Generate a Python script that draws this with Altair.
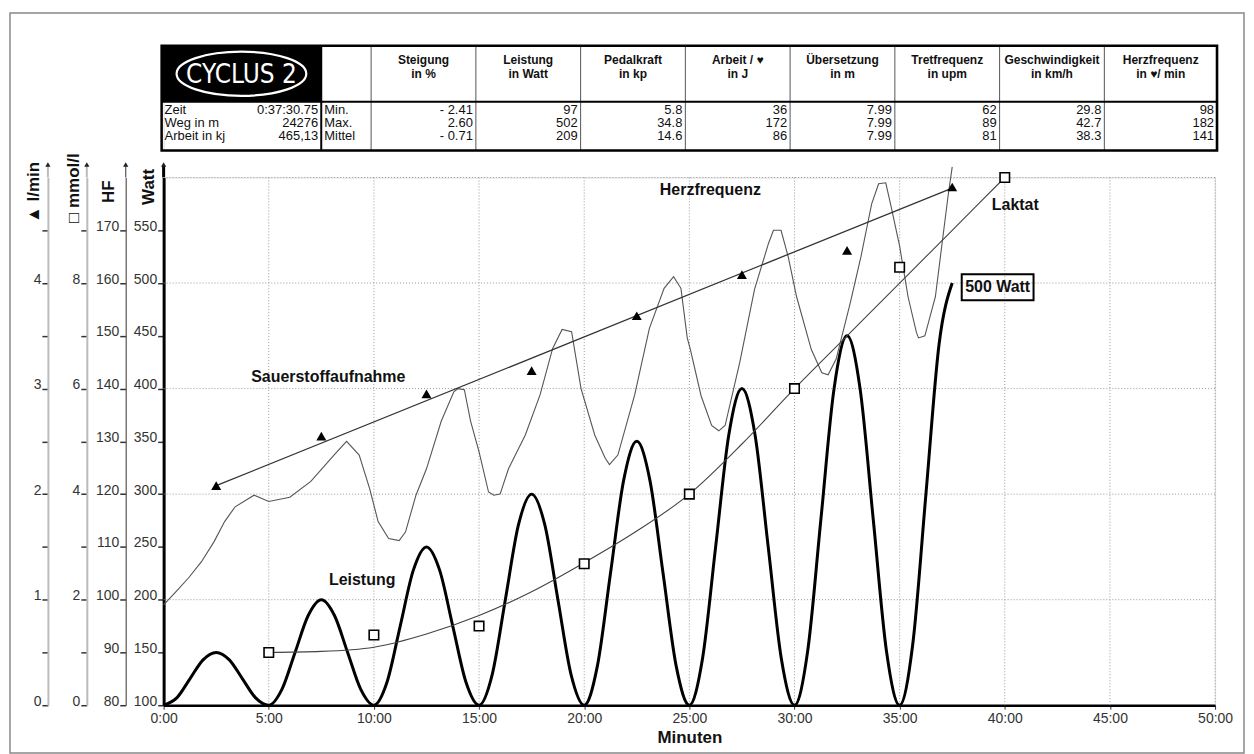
import altair as alt
import pandas as pd

FONT = "Liberation Sans, Arial, sans-serif"

# ---------------- data: Leistung (Watt) ----------------
lei_t = [0, 0.625, 1.25, 1.875, 2.5, 3.125, 3.75, 4.375,
         5, 5.625, 6.25, 6.875, 7.5, 8.125, 8.75, 9.375,
         10, 10.625, 11.25, 11.875, 12.5, 13.125, 13.75, 14.375,
         15, 15.625, 16.25, 16.875, 17.5, 18.125, 18.75, 19.375,
         20, 20.625, 21.25, 21.875, 22.5, 23.125, 23.75, 24.375,
         25, 25.625, 26.25, 26.875, 27.5, 28.125, 28.75, 29.375,
         30, 30.625, 31.25, 31.875, 32.5, 33.125, 33.75, 34.375,
         35, 35.625, 36.25, 36.875, 37.5]
lei_w = [100, 107, 125, 143, 150, 143, 125, 107,
         100, 115, 150, 185, 200, 185, 150, 115,
         100, 122, 175, 228, 250, 228, 175, 122,
         100, 129, 200, 271, 300, 271, 200, 129,
         100, 137, 225, 313, 350, 313, 225, 137,
         100, 144, 250, 356, 400, 356, 250, 144,
         100, 151, 275, 399, 450, 399, 275, 151,
         100, 158, 300, 442, 500]

# ---------------- data: Herzfrequenz (1/min) ----------------
hf_t = [0.0, 0.7, 1.2, 1.8, 2.4, 2.9, 3.4, 4.3, 5.0, 6.0, 7.0, 8.1, 8.7, 9.3, 9.8,
        10.2, 10.7, 11.2, 11.5, 12.0, 12.5, 13.2, 13.8, 14.0, 14.3, 14.6, 15.0,
        15.45, 15.7, 16.0, 16.4, 17.2, 17.9, 18.5, 18.95, 19.4, 19.85, 20.5, 21.0,
        21.2, 21.6, 22.4, 23.1, 23.8, 24.25, 24.6, 24.9, 25.05, 25.56, 26.06, 26.4,
        26.7, 27.4, 28.1, 28.77, 29.0, 29.36, 29.7, 30.1, 30.8, 31.3, 31.6, 31.98,
        32.65, 33.16, 33.67, 34.0, 34.34, 34.6, 35.0, 35.4, 35.8, 35.9, 36.2, 36.7,
        37.04, 37.3, 37.5]
hf_v = [99.0, 102.0, 104.2, 107.2, 111.0, 114.8, 117.6, 119.8, 118.6, 119.4, 122.4,
        127.4, 130.0, 127.4, 121.0, 114.8, 111.6, 111.2, 112.8, 119.8, 124.8, 133.8,
        139.4, 140.0, 139.8, 133.8, 128.0, 120.4, 119.8, 120.0, 124.8, 131.2, 138.8,
        147.6, 151.2, 150.8, 140.0, 131.2, 126.8, 125.6, 127.4, 138.8, 151.4, 159.0,
        161.2, 159.0, 149.6, 147.4, 138.6, 133.0, 132.0, 133.0, 145.0, 158.8, 167.6,
        170.0, 170.0, 165.0, 157.4, 147.4, 143.0, 142.6, 145.6, 156.2, 165.0, 175.0,
        178.8, 179.0, 174.4, 167.0, 157.4, 150.6, 149.6, 150.0, 157.4, 168.2, 176.4,
        182.0]

# ---------------- data: Laktat (mmol/l) ----------------
lac_t = [5, 10, 15, 20, 25, 30, 35, 40]
lac_v = [1.0, 1.33, 1.5, 2.68, 4.0, 6.0, 8.3, 10.0]
lacfit_t = [5, 7.5, 10, 12.5, 15, 17.5, 20, 22.5, 25, 27.5, 30, 32.5, 35, 37.5, 40]
lacfit_v = [1.0, 1.02, 1.1, 1.35, 1.7, 2.15, 2.7, 3.3, 4.0, 4.95, 6.0, 7.0, 8.0, 9.0, 10.0]

# ---------------- data: Sauerstoffaufnahme (l/min) ----------------
vo2_t = [2.5, 7.5, 12.5, 17.5, 22.5, 27.5, 32.5, 37.5]
vo2_v = [2.08, 2.55, 2.95, 3.17, 3.69, 4.08, 4.31, 4.91]
vo2fit_t = [2.5, 37.5]
vo2fit_v = [2.08, 4.90]

# ---------------- annotations (minutes, Watt) ----------------
ann_text = ["Herzfrequenz", "Sauerstoffaufnahme", "Leistung", "Laktat", "500 Watt"]
ann_t = [26.0, 7.83, 9.44, 40.5, 39.66]
ann_w = [588, 411, 218.5, 574, 496]

# ---------------- grid / ticks ----------------
grid_w = [200, 300, 400, 500, 600]
grid_t = [5, 10, 15, 20, 25, 30, 35, 40, 45, 50]
x_ticks = [0, 5, 10, 15, 20, 25, 30, 35, 40, 45, 50]
watt_ticks = [100, 150, 200, 250, 300, 350, 400, 450, 500, 550]
hf_ticks = [80, 90, 100, 110, 120, 130, 140, 150, 160, 170]
lac_ticks = [0, 1, 2, 3, 4, 5, 6, 7, 8, 9]
vo2_ticks = [0, 0.5, 1, 1.5, 2, 2.5, 3, 3.5, 4, 4.5]

# ---------------- table ----------------
tab_heads1 = ["Steigung", "Leistung", "Pedalkraft", "Arbeit / \u2665", "\u00dcbersetzung",
              "Tretfrequenz", "Geschwindigkeit", "Herzfrequenz"]
tab_heads2 = ["in %", "in Watt", "in kp", "in J", "in m", "in upm", "in km/h", "in \u2665/ min"]
tab_vals = [["- 2.41", "2.60", "- 0.71"],
            ["97", "502", "209"],
            ["5.8", "34.8", "14.6"],
            ["36", "172", "86"],
            ["7.99", "7.99", "7.99"],
            ["62", "89", "81"],
            ["29.8", "42.7", "38.3"],
            ["98", "182", "141"]]
info_labels = ["Zeit", "Weg in m", "Arbeit in kj"]
info_values = ["0:37:30.75", "24276", "465,13"]
stat_labels = ["Min.", "Max.", "Mittel"]

# layout of the table (pixels inside the table panel)
TW, TH = 1054, 105
col_edges = [-2, 158, 208, 313, 418, 523, 628, 733, 838, 943, 1056]
head_sep = 56
head_y = [14, 28]
row_y = [64, 77, 90]

W, H = 1054, 529
X_DOM = [0, 50]

# ======================= table panel =======================
def tx(f="x"):
    return alt.X(f + ":Q", scale=alt.Scale(domain=[0, TW], nice=False, zero=False), axis=None)


def ty(f="y"):
    return alt.Y(f + ":Q", scale=alt.Scale(domain=[0, TH], reverse=True, nice=False, zero=False), axis=None)


one = pd.DataFrame({"a": [0]})
logo_rect = alt.Chart(pd.DataFrame({"x": [col_edges[0]], "x2": [col_edges[1]], "y": [0], "y2": [head_sep]})
                      ).mark_rect(color="black").encode(x=tx(), x2="x2:Q", y=ty(), y2="y2:Q")
logo_ell = alt.Chart(pd.DataFrame({"x": [78], "y": [28]})).mark_point(
    shape="M-1,0A1,0.34,0,1,1,1,0A1,0.34,0,1,1,-1,0Z", size=16900, filled=False,
    stroke="white", strokeWidth=2.2, opacity=1).encode(x=tx(), y=ty())
logo_txt = alt.Chart(pd.DataFrame({"x": [78], "y": [29], "s": ["CYCLUS 2"]})).mark_text(
    font="DejaVu Sans Condensed, DejaVu Sans, sans-serif", fontSize=26, fontWeight=300, color="white",
    baseline="middle", align="center").encode(x=tx(), y=ty(), text="s:N")

vlines = alt.Chart(pd.DataFrame({"x": col_edges[2:-1]})).mark_rule(color="#555", strokeWidth=1).encode(
    x=tx(), y=alt.value(0), y2=alt.value(TH))
vline_logo = alt.Chart(pd.DataFrame({"x": [col_edges[1]]})).mark_rule(color="black", strokeWidth=2).encode(
    x=tx(), y=alt.value(0), y2=alt.value(TH))
hsep = alt.Chart(pd.DataFrame({"y": [head_sep], "x": [col_edges[0]], "x2": [col_edges[-1]]})).mark_rule(
    color="black", strokeWidth=2).encode(y=ty(), x=tx(), x2="x2:Q")
border = alt.Chart(pd.DataFrame({"x": [col_edges[0]], "x2": [col_edges[-1]], "y": [0], "y2": [TH]})).mark_rect(
    fillOpacity=0, stroke="black", strokeWidth=2.5).encode(x=tx(), x2="x2:Q", y=ty(), y2="y2:Q")

hrows = []
for i in range(len(tab_heads1)):
    cx = (col_edges[i + 2] + col_edges[i + 3]) / 2
    hrows.append({"x": cx, "y": head_y[0], "s": tab_heads1[i]})
    hrows.append({"x": cx, "y": head_y[1], "s": tab_heads2[i]})
heads = alt.Chart(pd.DataFrame(hrows)).mark_text(font=FONT, fontSize=12, fontWeight="bold", color="#111",
                                                 baseline="middle", align="center").encode(
    x=tx(), y=ty(), text="s:N")

vrows = []
for i, col in enumerate(tab_vals):
    for j, v in enumerate(col):
        vrows.append({"x": col_edges[i + 3] - 3, "y": row_y[j], "s": v})
for j in range(3):
    vrows.append({"x": col_edges[1] - 3, "y": row_y[j], "s": info_values[j]})
vals = alt.Chart(pd.DataFrame(vrows)).mark_text(font=FONT, fontSize=13, color="#111", baseline="middle",
                                                align="right").encode(x=tx(), y=ty(), text="s:N")
lrows = []
for j in range(3):
    lrows.append({"x": col_edges[0] + 3, "y": row_y[j], "s": info_labels[j]})
    lrows.append({"x": col_edges[1] + 3, "y": row_y[j], "s": stat_labels[j]})
labs = alt.Chart(pd.DataFrame(lrows)).mark_text(font=FONT, fontSize=13, color="#111", baseline="middle",
                                                align="left").encode(x=tx(), y=ty(), text="s:N")

table = alt.layer(logo_rect, logo_ell, logo_txt, vlines, vline_logo, hsep, border, heads, vals, labs
                  ).properties(width=TW, height=TH)

# ======================= main panel =======================
def xs():
    return alt.Scale(domain=X_DOM, nice=False, zero=False)


def ws():
    return alt.Scale(domain=[100, 600], nice=False, zero=False)


def x_axis():
    return alt.Axis(values=x_ticks, labelExpr="format(datum.value, 'd') + ':00'", title="Minuten",
                    domainColor="black", domainWidth=2.5, tickColor="#333", tickSize=4, tickWidth=1,
                    labelFont=FONT, labelFontSize=14, labelColor="#333", labelPadding=2,
                    labelFlush=False, labelOverlap=False, grid=False,
                    titleFont=FONT, titleFontSize=17, titleFontWeight="bold", titleColor="#111",
                    titlePadding=4)


def X(f="t"):
    return alt.X(f + ":Q", scale=xs(), axis=x_axis())


def y_axis(values, title, offset, dcolor, dwidth, tx_, ty_, label_expr=None):
    kw = dict(values=values, orient="left", offset=offset, domain=True, domainColor=dcolor,
              domainWidth=dwidth, ticks=True, tickColor="#333", tickSize=6, tickWidth=1.5,
              labelFont=FONT, labelFontSize=14,
              labelColor="#333", labelBaseline="alphabetic", labelPadding=1, labelFlush=False,
              labelOverlap=False, grid=False, title=title, titleAngle=270, titleAlign="left",
              titleBaseline="middle", titleX=tx_, titleY=ty_, titleFont=FONT, titleFontSize=17,
              titleFontWeight="bold", titleColor="#111")
    if label_expr:
        kw["labelExpr"] = label_expr
    return alt.Axis(**kw)


# decorations: frame and axis arrow extensions
frame = alt.Chart(one).mark_rect(fillOpacity=0, stroke="#888", strokeWidth=1.5).encode(
    x=alt.value(-154), x2=alt.value(1083), y=alt.value(-165), y2=alt.value(577))
ax_off = [0, -38, -77, -116]
ax_col = ["black", "#555", "#bbb", "#bbb"]
ax_wid = [3, 1.2, 2, 2]
arrows = []
for o, c, w_ in zip(ax_off, ax_col, ax_wid):
    arrows.append(alt.Chart(one).mark_rule(color=c, strokeWidth=w_).encode(
        x=alt.value(o), y=alt.value(0), y2=alt.value(-12)))
    arrows.append(alt.Chart(one).mark_point(shape="triangle-up", size=28, filled=True, color="#222",
                                            opacity=1).encode(x=alt.value(o), y=alt.value(-13)))

hgrid = alt.Chart(pd.DataFrame({"v": grid_w})).mark_rule(color="#999", strokeDash=[1, 2], strokeWidth=1).encode(
    y=alt.Y("v:Q", scale=ws(), axis=None))
vgrid = alt.Chart(pd.DataFrame({"t": grid_t})).mark_rule(color="#999", strokeDash=[1, 2], strokeWidth=1).encode(
    x=X())

lei_line = alt.Chart(pd.DataFrame({"t": lei_t, "v": lei_w})).mark_line(
    color="black", strokeWidth=3, interpolate="monotone").encode(
    x=X(),
    y=alt.Y("v:Q", scale=ws(), axis=y_axis(watt_ticks, "Watt", 0, "black", 3, -15, 27)))

ann_df = pd.DataFrame({"t": ann_t, "v": ann_w, "s": ann_text})
ann = alt.Chart(ann_df).mark_text(font=FONT, fontSize=16, fontWeight="bold", color="#111",
                                  baseline="middle", align="center").encode(
    x=X(), y=alt.Y("v:Q", scale=ws(), axis=None), text="s:N")
box = alt.Chart(ann_df[ann_df.s == "500 Watt"]).mark_point(
    shape="M-1,-0.36H1V0.36H-1Z", size=5184, filled=False, stroke="black", strokeWidth=2, opacity=1).encode(
    x=X(), y=alt.Y("v:Q", scale=ws(), axis=None))

hf_line = alt.Chart(pd.DataFrame({"t": hf_t, "v": hf_v})).mark_line(color="#555", strokeWidth=1.1).encode(
    x=X(),
    y=alt.Y("v:Q", scale=alt.Scale(domain=[80, 180], nice=False, zero=False),
            axis=y_axis(hf_ticks, "HF", 38, "#555", 1.2, -17, 25)))


def ls():
    return alt.Scale(domain=[0, 10], nice=False, zero=False)


lac_fit = alt.Chart(pd.DataFrame({"t": lacfit_t, "v": lacfit_v})).mark_line(
    color="#444", strokeWidth=1.1, interpolate="monotone").encode(
    x=X(),
    y=alt.Y("v:Q", scale=ls(),
            axis=y_axis(lac_ticks, "\u25a1 mmol/l", 77, "#bbb", 2, -13, 45,
                        "datum.value % 2 == 0 ? format(datum.value, 'd') : ''")))
lac_pts = alt.Chart(pd.DataFrame({"t": lac_t, "v": lac_v})).mark_point(
    shape="square", size=90, filled=True, fill="white", stroke="black", strokeWidth=1.6, opacity=1).encode(
    x=X(), y=alt.Y("v:Q", scale=ls(), axis=None))


def vs():
    return alt.Scale(domain=[0, 5], nice=False, zero=False)


vo2_line = alt.Chart(pd.DataFrame({"t": vo2fit_t, "v": vo2fit_v})).mark_line(
    color="#333", strokeWidth=1.3).encode(
    x=X(),
    y=alt.Y("v:Q", scale=vs(),
            axis=y_axis(vo2_ticks, "\u25b2 l/min", 116, "#bbb", 2, -14, 45,
                        "datum.value % 1 == 0 ? format(datum.value, 'd') : ''")))
vo2_pts = alt.Chart(pd.DataFrame({"t": vo2_t, "v": vo2_v})).mark_point(
    shape="triangle-up", size=100, filled=True, color="black", opacity=1).encode(
    x=X(), y=alt.Y("v:Q", scale=vs(), axis=None))

main = alt.layer(frame, *arrows, hgrid, vgrid, lei_line, hf_line, lac_fit, lac_pts, vo2_line, vo2_pts,
                 ann, box).resolve_scale(y="independent").properties(width=W, height=H)

chart = alt.vconcat(table, main, spacing=27, bounds="flush").properties(
    padding={"left": 0, "top": 2, "right": 0, "bottom": 0}
).configure_view(stroke=None).configure(background="white")

chart.save("out.html", embed_options={"renderer": "svg", "actions": False})
